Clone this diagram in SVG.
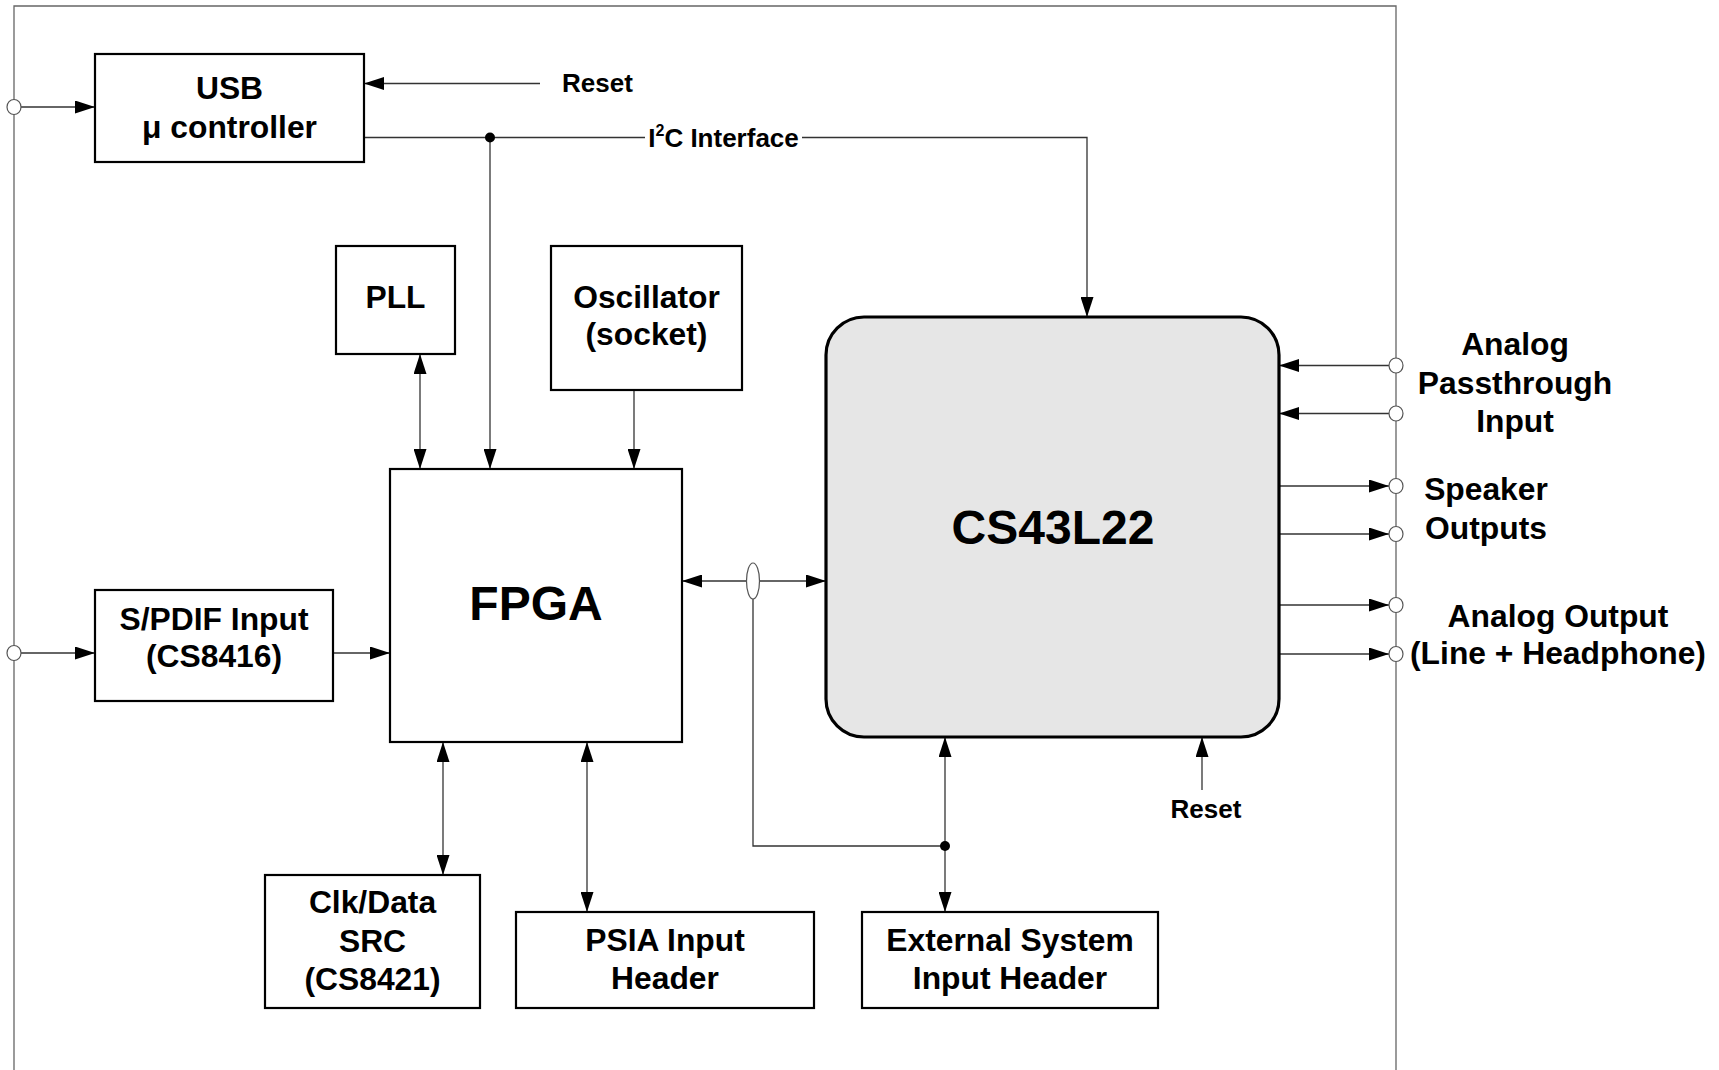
<svg xmlns="http://www.w3.org/2000/svg" width="1719" height="1070" viewBox="0 0 1719 1070">
<style>
.box{fill:#fff;stroke:#000;stroke-width:2.2}
.cs{fill:#e6e6e6;stroke:#000;stroke-width:3.2}
.ln{fill:none;stroke:#333;stroke-width:1.3}
.bd{fill:none;stroke:#666;stroke-width:1.3}
.pin{fill:#fff;stroke:#555;stroke-width:1.2}
.dot{fill:#000}
text{font-family:"Liberation Sans",Arial,sans-serif;font-weight:bold;fill:#000;text-anchor:middle}
.t{font-size:31.8px}
.big{font-size:48px}
.sm{font-size:26px}
</style>
<defs>
<marker id="ah" markerUnits="userSpaceOnUse" markerWidth="20" markerHeight="13" refX="20" refY="6.5" orient="auto-start-reverse">
<path d="M0,0 L20,6.5 L0,13 z" fill="#000"/>
</marker>
</defs>
<g id="border">
<polyline class="bd" points="14,1070 14,6 1396,6 1396,1070"/>
</g>
<g id="connectors">
<line class="ln" x1="21" y1="107" x2="95" y2="107" marker-end="url(#ah)"/>
<line class="ln" x1="540" y1="83.5" x2="364" y2="83.5" marker-end="url(#ah)"/>
<line class="ln" x1="364" y1="137.5" x2="645" y2="137.5"/>
<polyline class="ln" points="802,137.5 1087,137.5 1087,317" marker-end="url(#ah)"/>
<line class="ln" x1="490" y1="137.5" x2="490" y2="469" marker-end="url(#ah)"/>
<line class="ln" x1="420" y1="354" x2="420" y2="469" marker-start="url(#ah)" marker-end="url(#ah)"/>
<line class="ln" x1="634" y1="390" x2="634" y2="469" marker-end="url(#ah)"/>
<line class="ln" x1="21" y1="653" x2="95" y2="653" marker-end="url(#ah)"/>
<line class="ln" x1="333" y1="653" x2="390" y2="653" marker-end="url(#ah)"/>
<line class="ln" x1="682" y1="581" x2="826" y2="581" marker-start="url(#ah)" marker-end="url(#ah)"/>
<polyline class="ln" points="753,599 753,846 945,846"/>
<line class="ln" x1="945" y1="737" x2="945" y2="912" marker-start="url(#ah)" marker-end="url(#ah)"/>
<line class="ln" x1="1202" y1="790" x2="1202" y2="737" marker-end="url(#ah)"/>
<line class="ln" x1="443" y1="742" x2="443" y2="875" marker-start="url(#ah)" marker-end="url(#ah)"/>
<line class="ln" x1="587" y1="742" x2="587" y2="912" marker-start="url(#ah)" marker-end="url(#ah)"/>
<line class="ln" x1="1389" y1="365.5" x2="1279" y2="365.5" marker-end="url(#ah)"/>
<line class="ln" x1="1389" y1="413.5" x2="1279" y2="413.5" marker-end="url(#ah)"/>
<line class="ln" x1="1279" y1="486" x2="1389" y2="486" marker-end="url(#ah)"/>
<line class="ln" x1="1279" y1="534" x2="1389" y2="534" marker-end="url(#ah)"/>
<line class="ln" x1="1279" y1="605" x2="1389" y2="605" marker-end="url(#ah)"/>
<line class="ln" x1="1279" y1="654" x2="1389" y2="654" marker-end="url(#ah)"/>
<ellipse class="pin" cx="753" cy="581" rx="6.5" ry="18"/>
<circle class="dot" cx="490" cy="137.5" r="5"/>
<circle class="dot" cx="945" cy="846" r="5"/>
<ellipse class="pin" cx="14" cy="107" rx="7" ry="7.5"/>
<ellipse class="pin" cx="14" cy="653" rx="7" ry="7.5"/>
<ellipse class="pin" cx="1396" cy="365.5" rx="7" ry="7.5"/>
<ellipse class="pin" cx="1396" cy="413.5" rx="7" ry="7.5"/>
<ellipse class="pin" cx="1396" cy="486" rx="7" ry="7.5"/>
<ellipse class="pin" cx="1396" cy="534" rx="7" ry="7.5"/>
<ellipse class="pin" cx="1396" cy="605" rx="7" ry="7.5"/>
<ellipse class="pin" cx="1396" cy="654" rx="7" ry="7.5"/>
<text class="sm" x="562" y="92" style="text-anchor:start">Reset</text>
<text class="sm" x="723.5" y="146.5">I<tspan font-size="16" dy="-11">2</tspan><tspan dy="11">C Interface</tspan></text>
<text class="sm" x="1206" y="818">Reset</text>
</g>
<g id="usb">
<rect class="box" x="95" y="54" width="269" height="108"/>
<text class="t" x="229.5" y="98.5">USB</text>
<text class="t" x="229.5" y="137.5">μ controller</text>
</g>
<g id="pll">
<rect class="box" x="336" y="246" width="119" height="108"/>
<text class="t" x="395.5" y="308">PLL</text>
</g>
<g id="oscillator">
<rect class="box" x="551" y="246" width="191" height="144"/>
<text class="t" x="646.5" y="307.5">Oscillator</text>
<text class="t" x="646.5" y="345">(socket)</text>
</g>
<g id="fpga">
<rect class="box" x="390" y="469" width="292" height="273"/>
<text class="big" x="536" y="620">FPGA</text>
</g>
<g id="spdif">
<rect class="box" x="95" y="590" width="238" height="111"/>
<text class="t" x="214" y="630">S/PDIF Input</text>
<text class="t" x="214" y="667">(CS8416)</text>
</g>
<g id="cs43l22">
<rect class="cs" x="826" y="317" width="453" height="420" rx="38" ry="38"/>
<text class="big" x="1053" y="544">CS43L22</text>
</g>
<g id="clkdata">
<rect class="box" x="265" y="875" width="215" height="133"/>
<text class="t" x="372.5" y="913">Clk/Data</text>
<text class="t" x="372.5" y="951.5">SRC</text>
<text class="t" x="372.5" y="990">(CS8421)</text>
</g>
<g id="psia">
<rect class="box" x="516" y="912" width="298" height="96"/>
<text class="t" x="665" y="951">PSIA Input</text>
<text class="t" x="665" y="989">Header</text>
</g>
<g id="external">
<rect class="box" x="862" y="912" width="296" height="96"/>
<text class="t" x="1010" y="951">External System</text>
<text class="t" x="1010" y="989">Input Header</text>
</g>
<g id="labels">
<text class="t" x="1515" y="355">Analog</text>
<text class="t" x="1515" y="394">Passthrough</text>
<text class="t" x="1515" y="432">Input</text>
<text class="t" x="1486" y="500">Speaker</text>
<text class="t" x="1486" y="538.5">Outputs</text>
<text class="t" x="1558" y="627">Analog Output</text>
<text class="t" x="1558" y="664">(Line + Headphone)</text>
</g>
</svg>
